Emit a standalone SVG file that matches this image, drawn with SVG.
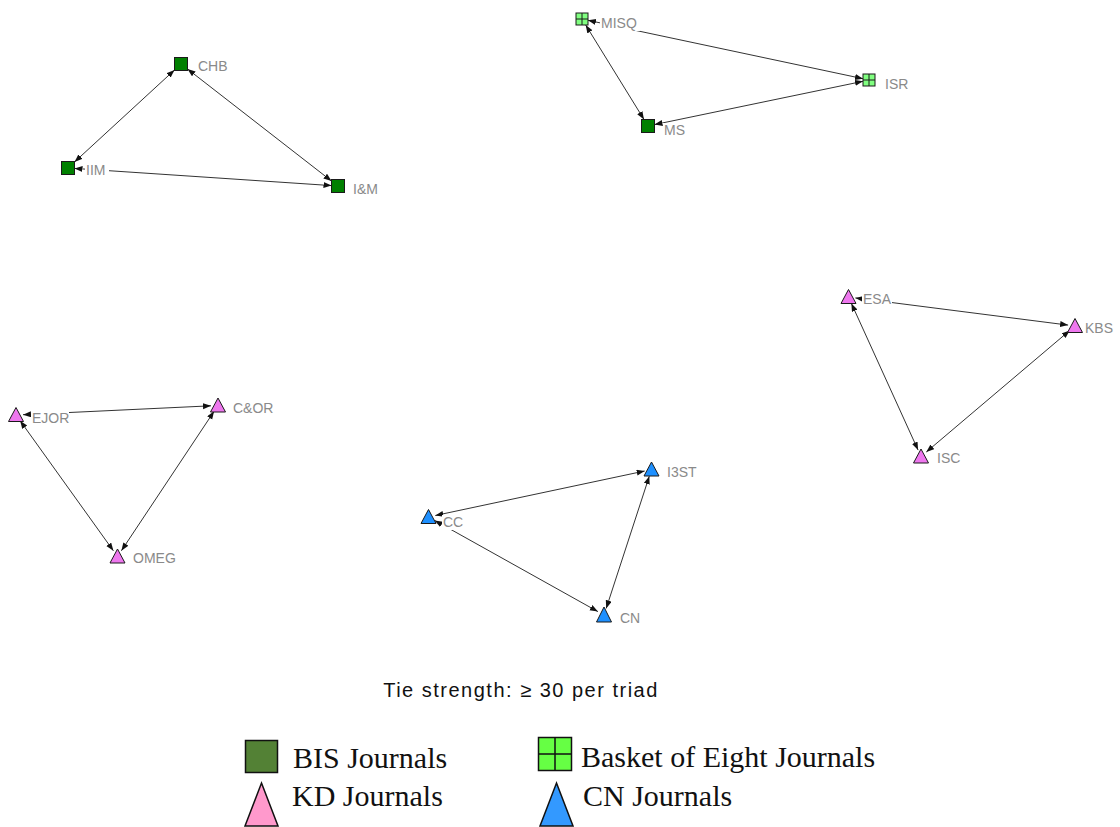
<svg xmlns="http://www.w3.org/2000/svg" width="1120" height="827" viewBox="0 0 1120 827">
<style>
.edge{stroke:#333;stroke-width:1;fill:none;marker-start:url(#ah);marker-end:url(#ah)}
.lbl{font-family:"Liberation Sans",Arial,sans-serif;font-size:14px;fill:#8a8a8a}
.lbg{fill:#fff}
.bis{fill:#008000;stroke:#1a1a1a;stroke-width:1}
.b8{fill:#80ff80;stroke:#1a1a1a;stroke-width:1}
.b8g{stroke:#1a1a1a;stroke-width:1}
.kd{fill:#ee77ee;stroke:#1a1a1a;stroke-width:1}
.cn{fill:#1e90ff;stroke:#1a1a1a;stroke-width:1}
.leg{font-family:"Liberation Serif","Times New Roman",serif;font-size:30px;fill:#111}
</style>
<defs>
<marker id="ah" markerWidth="10" markerHeight="8" refX="8" refY="3" orient="auto-start-reverse" markerUnits="userSpaceOnUse"><path d="M0,0 L8,3 L0,6 Z" fill="#111"/></marker>
</defs>
<rect width="1120" height="827" fill="#fff"/>
<g id="connectors">
<line class="edge" x1="174.5" y1="70" x2="74.5" y2="162"/>
<line class="edge" x1="187.5" y1="69" x2="331.5" y2="181"/>
<line class="edge" x1="74.5" y1="168.4" x2="331.5" y2="185.6"/>
<line class="edge" x1="585.7" y1="25" x2="644" y2="119.5"/>
<line class="edge" x1="588" y1="20.3" x2="863" y2="78.7"/>
<line class="edge" x1="654.5" y1="124.6" x2="863" y2="81.3"/>
<line class="edge" x1="855.4" y1="297.9" x2="1068.1" y2="325.1"/>
<line class="edge" x1="851.4" y1="303.4" x2="918.1" y2="450.1"/>
<line class="edge" x1="1069.7" y1="330.5" x2="926.3" y2="452"/>
<line class="edge" x1="23" y1="414.7" x2="211" y2="405.8"/>
<line class="edge" x1="20.1" y1="420.7" x2="113.4" y2="550.8"/>
<line class="edge" x1="214.1" y1="411.3" x2="121.4" y2="550.7"/>
<line class="edge" x1="435.3" y1="515.5" x2="644.7" y2="471"/>
<line class="edge" x1="434.6" y1="520.4" x2="597.9" y2="611.6"/>
<line class="edge" x1="649.3" y1="476.2" x2="606.2" y2="608.4"/>
</g>
<g id="CHB"><rect class="bis" x="174.5" y="57.5" width="13" height="13"/><rect class="lbg" x="197" y="59" width="31" height="15"/><text class="lbl" x="198" y="71">CHB</text></g>
<g id="IIM"><rect class="bis" x="61.5" y="161.5" width="13" height="13"/><rect class="lbg" x="85" y="163" width="24" height="15"/><text class="lbl" x="86" y="175">IIM</text></g>
<g id="IandM"><rect class="bis" x="331.5" y="179.5" width="13" height="13"/><rect class="lbg" x="352" y="182" width="32" height="15"/><text class="lbl" x="353" y="194">I&amp;M</text></g>
<g id="MISQ"><rect class="b8" x="576" y="13" width="12" height="12"/><path class="b8g" d="M582,13V25M576,19H588"/><rect class="lbg" x="600" y="16" width="40" height="15"/><text class="lbl" x="601" y="28">MISQ</text></g>
<g id="ISR"><rect class="b8" x="863" y="74" width="12" height="12"/><path class="b8g" d="M869,74V86M863,80H875"/><rect class="lbg" x="884" y="77" width="26" height="15"/><text class="lbl" x="885" y="89">ISR</text></g>
<g id="MS"><rect class="bis" x="641.5" y="119.5" width="13" height="13"/><rect class="lbg" x="663" y="123" width="23" height="15"/><text class="lbl" x="664" y="135">MS</text></g>
<g id="ESA"><path class="kd" d="M848.5,289.5L856,303.5L841,303.5Z"/><rect class="lbg" x="862" y="292" width="30" height="15"/><text class="lbl" x="863" y="304">ESA</text></g>
<g id="KBS"><path class="kd" d="M1075,318.5L1082.5,332.5L1067.5,332.5Z"/><rect class="lbg" x="1084" y="321" width="34" height="15"/><text class="lbl" x="1085" y="333">KBS</text></g>
<g id="ISC"><path class="kd" d="M921,449L928.5,463L913.5,463Z"/><rect class="lbg" x="936" y="451" width="26" height="15"/><text class="lbl" x="937" y="463">ISC</text></g>
<g id="EJOR"><path class="kd" d="M16,407.5L23.5,421.5L8.5,421.5Z"/><rect class="lbg" x="31" y="411" width="38" height="15"/><text class="lbl" x="32" y="423">EJOR</text></g>
<g id="CandOR"><path class="kd" d="M218,398L225.5,412L210.5,412Z"/><rect class="lbg" x="232" y="401" width="42" height="15"/><text class="lbl" x="233" y="413">C&amp;OR</text></g>
<g id="OMEG"><path class="kd" d="M117.5,549L125,563L110,563Z"/><rect class="lbg" x="132" y="551" width="44" height="15"/><text class="lbl" x="133" y="563">OMEG</text></g>
<g id="I3ST"><path class="cn" d="M651.5,462L659,476L644,476Z"/><rect class="lbg" x="666" y="465" width="32" height="15"/><text class="lbl" x="667" y="477">I3ST</text></g>
<g id="CC"><path class="cn" d="M428.5,509.5L436,523.5L421,523.5Z"/><rect class="lbg" x="442" y="515" width="23" height="15"/><text class="lbl" x="443" y="527">CC</text></g>
<g id="CN"><path class="cn" d="M604,607L611.5,622L596.5,622Z"/><rect class="lbg" x="619" y="611" width="23" height="15"/><text class="lbl" x="620" y="623">CN</text></g>
<g id="caption"><text x="521" y="697" text-anchor="middle" font-family="Liberation Sans, Arial, sans-serif" font-size="20" letter-spacing="1.5" fill="#111">Tie strength: ≥ 30 per triad</text></g>
<g id="legend">
<rect x="245.5" y="740.5" width="32" height="32" fill="#538135" stroke="#111" stroke-width="1.5"/>
<text class="leg" x="293" y="768">BIS Journals</text>
<rect x="538.5" y="737.5" width="33" height="33" fill="#66ff44" stroke="#111" stroke-width="1.5"/>
<path d="M555,737.5V770.5M538.5,754H571.5" stroke="#111" stroke-width="1.5"/>
<text class="leg" x="581" y="767">Basket of Eight Journals</text>
<path d="M261.5,783L278,826L245,826Z" fill="#ff99cc" stroke="#111" stroke-width="1.5"/>
<text class="leg" x="292" y="806">KD Journals</text>
<path d="M556.5,783L573,826L540,826Z" fill="#3399ff" stroke="#111" stroke-width="1.5"/>
<text class="leg" x="583" y="806">CN Journals</text>
</g>
</svg>
